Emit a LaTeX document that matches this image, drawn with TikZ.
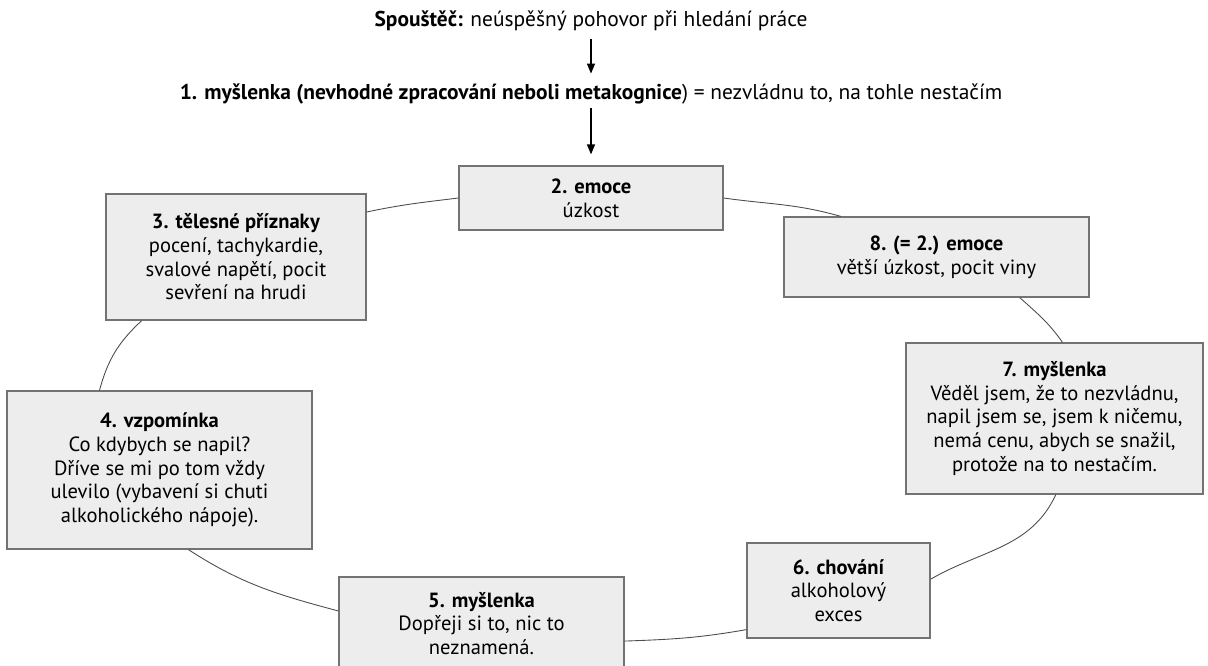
\documentclass[tikz,border=0pt]{standalone}
\usepackage{fontspec}
\setmainfont{PT Sans}
\usetikzlibrary{arrows.meta,positioning,calc}

\begin{document}
\begin{tikzpicture}[
  box/.style={draw=black!55, fill=black!7, line width=0.7pt, align=center, inner sep=0pt, font=\fontsize{11.7}{13.5}\selectfont},
  head/.style={align=center, font=\fontsize{12.2}{13.5}\selectfont},
  arrow/.style={-{Triangle[length=2mm, width=1.6mm]}, line width=0.75pt},
  loopline/.style={draw=black!70, line width=0.5pt}
]
\clip (0,0) rectangle (24.16,-13.30);

\node[head] (trigger) at (11.82,-0.42) {\textbf{Spouštěč:} neúspěšný pohovor při hledání práce};
\node[head] (thought) at (11.82,-1.88) {\textbf{1. myšlenka (nevhodné zpracování neboli metakognice})\ = nezvládnu to, na tohle nestačím};

\node[box, minimum width=5.28cm, minimum height=1.28cm] (emo) at (11.82,-3.96) {\textbf{2. emoce}\\úzkost};
\node[box, minimum width=5.2cm, minimum height=2.52cm] (body) at (4.72,-5.14) {\textbf{3. tělesné příznaky}\\pocení, tachykardie,\\svalové napětí, pocit\\sevření na hrudi};
\node[box, minimum width=6.1cm, minimum height=3.16cm] (memory) at (3.19,-9.40) {\textbf{4. vzpomínka}\\Co kdybych se napil?\\Dříve se mi po tom vždy\\ulevilo (vybavení si chuti\\alkoholického nápoje).};
\node[box, minimum width=5.7cm, minimum height=1.86cm] (permit) at (9.63,-12.47) {\textbf{5. myšlenka}\\Dopřeji si to, nic to\\neznamená.};
\node[box, minimum width=3.66cm, minimum height=1.9cm] (act) at (16.77,-11.81) {\textbf{6. chování}\\alkoholový\\exces};
\node[box, minimum width=5.94cm, minimum height=3.02cm] (guilt) at (21.09,-8.37) {\textbf{7. myšlenka}\\Věděl jsem, že to nezvládnu,\\napil jsem se, jsem k ničemu,\\nemá cenu, abych se snažil,\\protože na to nestačím.};
\node[box, minimum width=6.1cm, minimum height=1.6cm] (emo2) at (18.73,-5.14) {\textbf{8. (= 2.) emoce}\\větší úzkost, pocit viny};

\draw[arrow, shorten <=0.04cm, shorten >=0.08cm] (trigger) -- (thought);
\draw[arrow, shorten <=-0.04cm, shorten >=0.22cm] (thought) -- (emo);

% the vicious circle
\draw[loopline] (emo.east) to[out=-8, in=164] (emo2.157);
\draw[loopline] (emo2.-26) to[out=-42, in=125] (guilt.84);
\draw[loopline] (guilt.-89) to[out=-115, in=30] (act.7);
\draw[loopline] (act.203) to[out=190, in=2] (permit.-7);
\draw[loopline] (permit.175) to[out=165, in=-33] (memory.-70);
\draw[loopline] (memory.127) to[out=75, in=223] (body.214);
\draw[loopline] (body.19) to[out=12, in=187] (emo.west);

\end{tikzpicture}
\end{document}
